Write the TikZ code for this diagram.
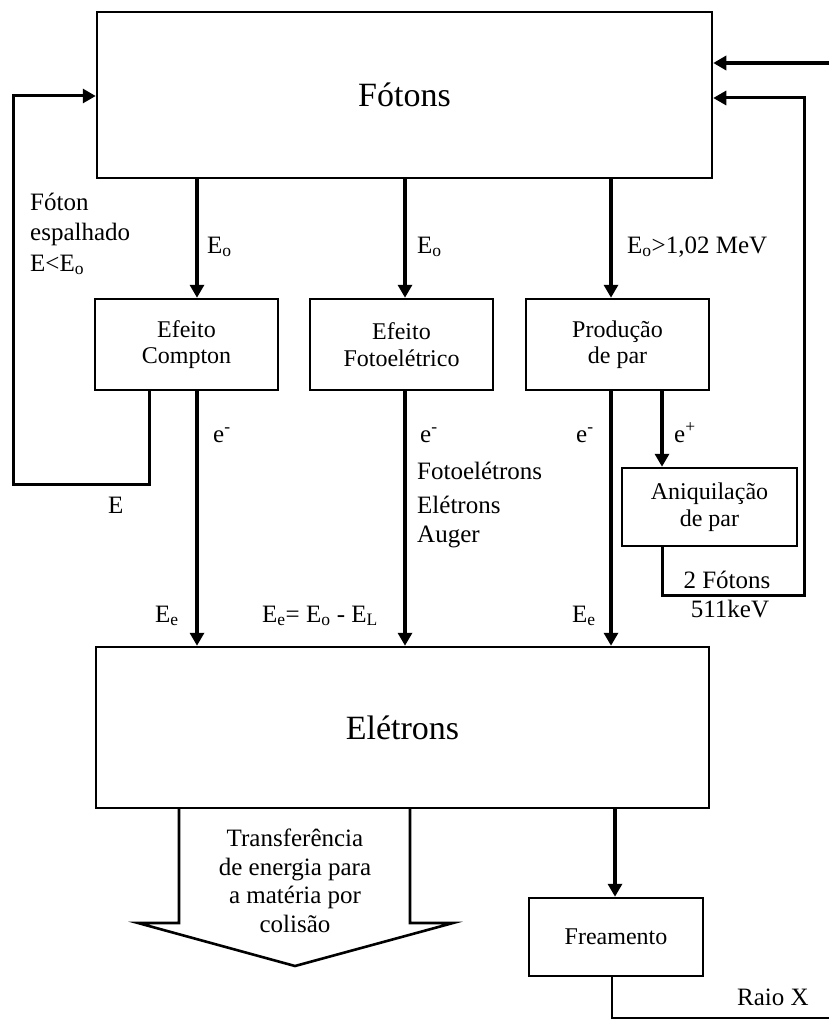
\documentclass[tikz,border=0pt]{standalone}
\usepackage{fontspec}
\setmainfont{Liberation Serif}
\usepackage{tikz}
\usetikzlibrary{arrows.meta,calc}
\tikzset{
 rad box/.style={draw,line width=2.5pt,inner sep=0pt,align=center},
 rad big/.style={rad box,font=\fontsize{34}{38}\selectfont},
 rad small/.style={rad box,font=\fontsize{24}{26.5}\selectfont},
 rad arrow/.style={line width=4pt,-{Triangle[length=13pt,width=14pt]}},
 rad loop/.style={rad arrow,line width=3pt},
 rad line/.style={line width=2.6pt},
 rad label/.style={font=\fontsize{25}{30}\selectfont,inner sep=0pt,anchor=base west}
}
\begin{document}
\begin{tikzpicture}[x=1pt,y=-1pt]
 \useasboundingbox (0,0) rectangle (829,1019);
 % caixas
 \node[rad big,minimum width=615pt,minimum height=166pt] (fotons) at (404.5,95) {Fótons};
 \node[rad small,minimum width=183pt,minimum height=91pt] (compton) at (186.5,344.5) {Efeito\\Compton};
 \node[rad small,minimum width=183pt,minimum height=91pt] (fotoel) at (401.5,344.5) {Efeito\\Fotoelétrico};
 \node[rad small,minimum width=183pt,minimum height=91pt] (prod) at (617.5,344.5) {Produção\\de par};
 \node[rad small,minimum width=175pt,minimum height=78pt] (aniq) at (709.5,507) {Aniquilação\\de par};
 \node[rad big,minimum width=613pt,minimum height=161pt] (eletrons) at (402.5,727.5) {Elétrons};
 \node[rad small,minimum width=174pt,minimum height=78pt] (fream) at (616,937) {Freamento};

 % colunas das setas
 \foreach \c/\x in {ca/197,cb/405,cc/611,cd/662,ce/615,cf/612,cg/149}{
   \coordinate (\c) at (\x,0);
 }
 \foreach \c/\b in {ca/compton,cb/fotoel,cc/prod}{
   \draw[rad arrow] (\c |- fotons.south) -- (\c |- \b.north);
   \draw[rad arrow] (\c |- \b.south) -- (\c |- eletrons.north);
 }
 \draw[rad arrow] (cd |- prod.south) -- (cd |- aniq.north);
 \draw[rad arrow] (ce |- eletrons.south) -- (ce |- fream.north);

 % realimentacao
 \coordinate (lpb) at (13,484);
 \coordinate (lpc) at (0,96);
 \draw[rad loop] (cg |- compton.south) |- (lpb) |- (fotons.west |- lpc);
 \coordinate (rpa) at (804,595);
 \coordinate (rpb) at (0,98);
 \draw[rad loop] (cd |- aniq.south) |- (rpa) |- (fotons.east |- rpb);
 \coordinate (inp) at (829,63);
 \draw[rad arrow] (inp) -- (fotons.east |- inp);
 \coordinate (rxend) at (829,1018);
 \draw[rad line] (cf |- fream.south) |- (rxend);

 % seta de transferencia
 \draw[rad line] (179,808) -- (179,923) -- (138,923) -- (295,966)
   -- (453,923) -- (410,923) -- (410,808);
 \foreach \t/\y [count=\i] in {Transferência/846,de energia para/875,a matéria por/903,colisão/932}{
   \node[rad label,anchor=base] (tr\i) at (295,\y) {\t};
 }

 % rotulos
 \foreach \t/\y [count=\i] in {Fóton/210,espalhado/240,E<E\textsubscript{o}/271}{
   \node[rad label] (esp\i) at (30,\y) {\t};
 }
 \node[rad label] (eo1) at (207,253) {E\textsubscript{o}};
 \node[rad label] (eo2) at (417,253) {E\textsubscript{o}};
 \node[rad label] (eo3) at (627,253) {E\textsubscript{o}>1,02 MeV};
 \node[rad label] (elab) at (108,513) {E};
 \node[rad label] (em1) at (213,442) {e\textsuperscript{-}};
 \node[rad label] (em2) at (420,442) {e\textsuperscript{-}};
 \node[rad label] (em3) at (576,442) {e\textsuperscript{-}};
 \node[rad label] (ep) at (674,442) {e\textsuperscript{+}};
 \foreach \t/\y [count=\i] in {Fotoelétrons/479,Elétrons/513,Auger/542}{
   \node[rad label] (fe\i) at (417,\y) {\t};
 }
 \node[rad label] (ee1) at (155,622) {E\textsubscript{e}};
 \node[rad label] (ee2) at (262,622) {E\textsubscript{e}= E\textsubscript{o} - E\textsubscript{L}};
 \node[rad label] (ee3) at (572,622) {E\textsubscript{e}};
 \node[rad label,anchor=base] (dois) at (727,588) {2 Fótons};
 \node[rad label,anchor=base] (kev) at (730,617) {511keV};
 \node[rad label] (raiox) at (737,1005) {Raio X};
\end{tikzpicture}
\end{document}
